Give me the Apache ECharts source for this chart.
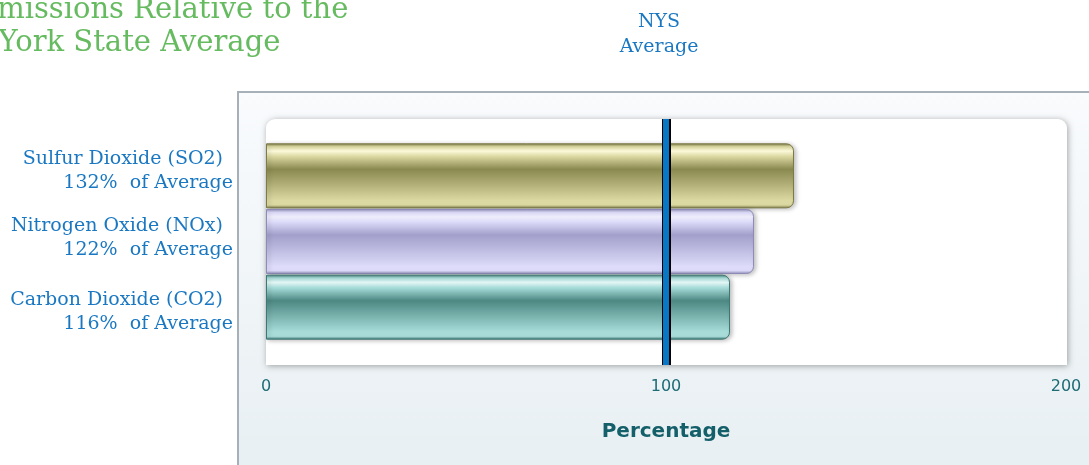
<!DOCTYPE html>
<html>
<head>
<meta charset="utf-8">
<script src="https://cdn.jsdelivr.net/npm/echarts@6/dist/echarts.min.js"></script>
<style>
html,body{margin:0;padding:0;background:#fff;}
#chart{width:1089px;height:465px;}
</style>
</head>
<body>
<div id="chart"></div>
<script>
// ---- data ----
const categories = ['Sulfur Dioxide (SO2)', 'Nitrogen Oxide (NOx)', 'Carbon Dioxide (CO2)'];
const percentValues = [132, 122, 116];
const nysAverage = 100;
const xTicks = [0, 100, 200];
const titleLines = ['Emissions Relative to the', 'New York State Average'];
const averageLabel = 'NYS\nAverage';
const axisName = 'Percentage';

// ---- styles ----
const barPalettes = [
  {edge:'#7c7a46', hi:'#fbf9da', mid:'#8a8950', low:'#dcd9a2'},
  {edge:'#8e8bb8', hi:'#eeedfb', mid:'#a29fcb', low:'#dddbf9'},
  {edge:'#3d7874', hi:'#e2f6f4', mid:'#4d8883', low:'#a7dcd9'}
];
function glossy(p){
  return new echarts.graphic.LinearGradient(0,0,0,1,[
    {offset:0, color:p.edge},
    {offset:0.05, color:p.low},
    {offset:0.12, color:p.hi},
    {offset:0.2, color:p.low},
    {offset:0.4, color:p.mid},
    {offset:0.88, color:p.low},
    {offset:0.95, color:p.low},
    {offset:1, color:p.edge}
  ]);
}

const chart = echarts.init(document.getElementById('chart'), null, {renderer:'canvas'});
const serif = 'DejaVu Serif';
const blue = '#1a78c2';
// spacer heights (top, bottom) to nudge each two-line label like the reference layout
const labelSpacer = [[0,11],[0,8],[10,0]];

const richStyles = {
  a:{color:blue, fontFamily:serif, fontSize:19, lineHeight:24, padding:[0,10,0,0]},
  b:{color:blue, fontFamily:serif, fontSize:19, lineHeight:24}
};
labelSpacer.forEach((s,i)=>{
  richStyles['t'+i] = {fontSize:1, lineHeight:Math.max(s[0],1), color:'rgba(0,0,0,0)'};
  richStyles['u'+i] = {fontSize:1, lineHeight:Math.max(s[1],1), color:'rgba(0,0,0,0)'};
});

const option = {
  animation:false,
  backgroundColor:'#ffffff',
  graphic:[
    {type:'rect', z:-5, shape:{x:238, y:92, width:900, height:420},
     style:{fill:new echarts.graphic.LinearGradient(0,0,0,1,[{offset:0,color:'#f9fbfd'},{offset:1,color:'#e6eef1'}]),
            stroke:'#a6b0b9', lineWidth:2}},
    {type:'rect', z:-4, shape:{x:266, y:119, width:801, height:246, r:[9,9,0,0]},
     style:{fill:'#ffffff', shadowBlur:6, shadowColor:'rgba(0,0,0,0.35)', shadowOffsetX:1, shadowOffsetY:1}},
    {type:'text', z:5, x:-24, y:-4, style:{text:titleLines[0], font:'29px "DejaVu Serif"', fill:'#66bb60'}},
    {type:'text', z:5, x:-78, y:29, style:{text:titleLines[1], font:'29px "DejaVu Serif"', fill:'#66bb60'}},
    {type:'text', z:5, x:659, y:10, style:{text:averageLabel, font:'19px "DejaVu Serif"', fill:blue, align:'center', lineHeight:25}}
  ],
  grid:[
    {left:266, top:119, width:800, height:246, containLabel:false},
    {left:266, top:143, width:800, height:197, containLabel:false}
  ],
  xAxis:[
    {type:'value', gridIndex:0, min:xTicks[0], max:xTicks[xTicks.length-1], interval:xTicks[1]-xTicks[0],
     axisLine:{show:false}, axisTick:{show:false}, splitLine:{show:false},
     axisLabel:{color:'#1d6b75', fontSize:16, fontFamily:'DejaVu Sans', margin:14},
     name:axisName, nameLocation:'middle', nameGap:57,
     nameTextStyle:{color:'#14606a', fontSize:20, fontWeight:'bold', fontFamily:'DejaVu Sans'}},
    {type:'value', gridIndex:1, min:xTicks[0], max:xTicks[xTicks.length-1], show:false}
  ],
  yAxis:[
    {type:'category', gridIndex:0, data:[''], show:false},
    {type:'category', gridIndex:1, data:categories, inverse:true,
     axisLine:{show:false}, axisTick:{show:false}, splitLine:{show:false},
     axisLabel:{margin:33, align:'right',
       formatter:function(v, i){
         return '{t'+i+'| }\n{a|' + v + '}\n{b|' + percentValues[i] + '%  of Average}\n{u'+i+'| }';
       },
       rich:richStyles}}
  ],
  series:[
    {type:'bar', xAxisIndex:1, yAxisIndex:1, barWidth:65, z:3,
     data:percentValues.map((v,i)=>({value:v, itemStyle:{
        color:glossy(barPalettes[i]), borderColor:barPalettes[i].edge, borderWidth:1,
        borderRadius:[0,7,7,0], shadowBlur:4, shadowColor:'rgba(0,0,0,0.25)', shadowOffsetX:2, shadowOffsetY:1}}))},
    {type:'scatter', xAxisIndex:0, yAxisIndex:0, data:[], z:10,
     markLine:{silent:true, symbol:'none', label:{show:false}, z:10,
       lineStyle:{color:'#000000', width:9, type:'solid'},
       data:[{xAxis:nysAverage}]}},
    {type:'scatter', xAxisIndex:0, yAxisIndex:0, data:[], z:11,
     markLine:{silent:true, symbol:'none', label:{show:false}, z:11,
       lineStyle:{color:'#0878c6', width:6, type:'solid'},
       data:[{xAxis:nysAverage}]}}
  ]
};
chart.setOption(option);
</script>
</body>
</html>
